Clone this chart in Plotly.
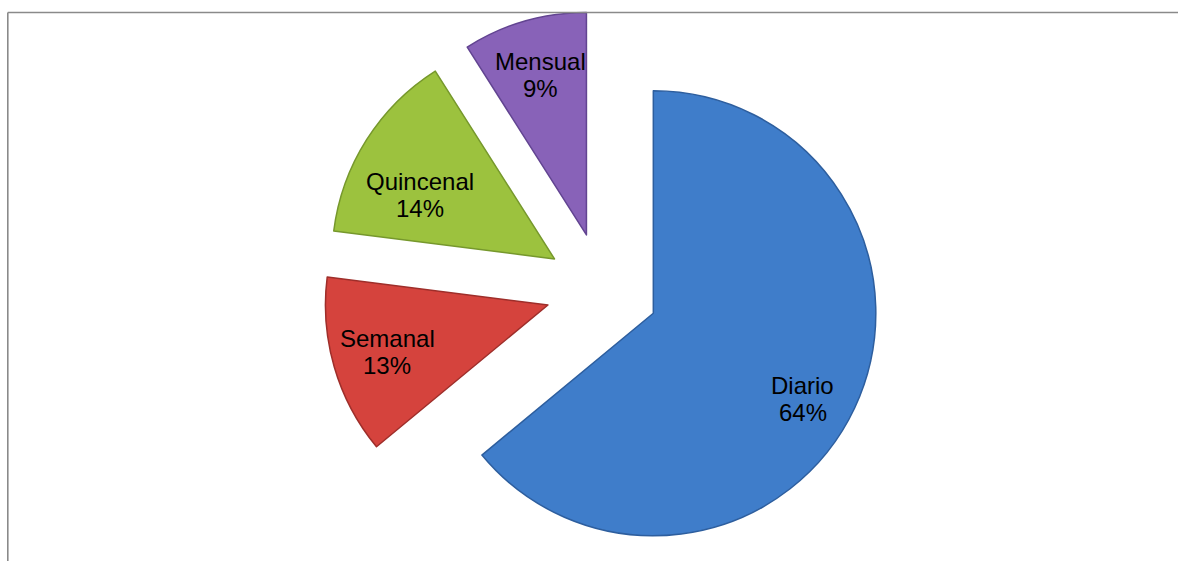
import math
import plotly.graph_objects as go

# Frecuencia de compra
categorias = ["Diario", "Semanal", "Quincenal", "Mensual"]
valores = [64, 13, 14, 9]

colores = ["#3F7DCA", "#D5433D", "#9CC23E", "#8862B8"]
bordes = ["#2D5E9E", "#9E2E2A", "#76982C", "#624491"]

# Posición de las etiquetas dentro de cada porción (fracción del radio, giro en grados)
etiqueta_radio = [0.775, 0.753, 0.67, 0.748]
etiqueta_giro = [4.6, 0.0, -7.1, 0.0]

W, H = 1178, 561
cx, cy = 602.2, 289.2   # centro del gráfico en píxeles
radio = 222.5           # radio de cada porción en píxeles
separacion = 56.5       # desplazamiento radial de cada porción (píxeles)
interlinea = 26.7       # distancia entre las dos líneas de cada etiqueta
fuente = dict(family="Liberation Sans, Arial, sans-serif", size=24, color="#000000")

total = sum(valores)
fig = go.Figure()
anotaciones = []
acumulado = 0.0
for i, (nombre, v) in enumerate(zip(categorias, valores)):
    inicio = acumulado / total * 360.0
    medio = (acumulado + v / 2) / total * 360.0
    acumulado += v
    a = math.radians(medio)
    # vértice de la porción desplazada hacia afuera
    vx = cx + separacion * math.sin(a)
    vy = cy - separacion * math.cos(a)

    # Cada porción se dibuja como su propio pastel (resto transparente) centrado en su vértice
    fig.add_trace(
        go.Pie(
            labels=[nombre, "resto"],
            values=[v, total - v],
            sort=False,
            direction="clockwise",
            rotation=inicio,
            marker=dict(
                colors=[colores[i], "rgba(0,0,0,0)"],
                line=dict(color=[bordes[i], "rgba(0,0,0,0)"], width=1.5),
            ),
            textinfo="none",
            hoverinfo="skip",
            domain=dict(
                x=[(vx - radio) / W, (vx + radio) / W],
                y=[(H - vy - radio) / H, (H - vy + radio) / H],
            ),
            showlegend=False,
        )
    )

    b = math.radians(medio + etiqueta_giro[i])
    px = vx + etiqueta_radio[i] * radio * math.sin(b)
    py = vy - etiqueta_radio[i] * radio * math.cos(b)
    pct = round(v / total * 100)
    for texto, dy in ((nombre, -interlinea / 2), (f"{pct}%", interlinea / 2)):
        anotaciones.append(
            dict(
                x=px / W,
                y=1 - (py + dy) / H,
                xref="paper",
                yref="paper",
                xanchor="center",
                yanchor="middle",
                text=texto,
                showarrow=False,
                font=fuente,
            )
        )

# Marco del área del gráfico
marco = [
    dict(type="line", xref="paper", yref="paper",
         x0=7.8 / W, x1=1.0, y0=1 - 12.5 / H, y1=1 - 12.5 / H,
         line=dict(color="#8A8A8A", width=1.6)),
    dict(type="line", xref="paper", yref="paper",
         x0=7.8 / W, x1=7.8 / W, y0=0.0, y1=1 - 12.5 / H,
         line=dict(color="#8A8A8A", width=1.6)),
]

fig.update_layout(
    width=W,
    height=H,
    margin=dict(l=0, r=0, t=0, b=0),
    paper_bgcolor="#FFFFFF",
    plot_bgcolor="#FFFFFF",
    annotations=anotaciones,
    shapes=marco,
)

fig.write_html("out.html")
